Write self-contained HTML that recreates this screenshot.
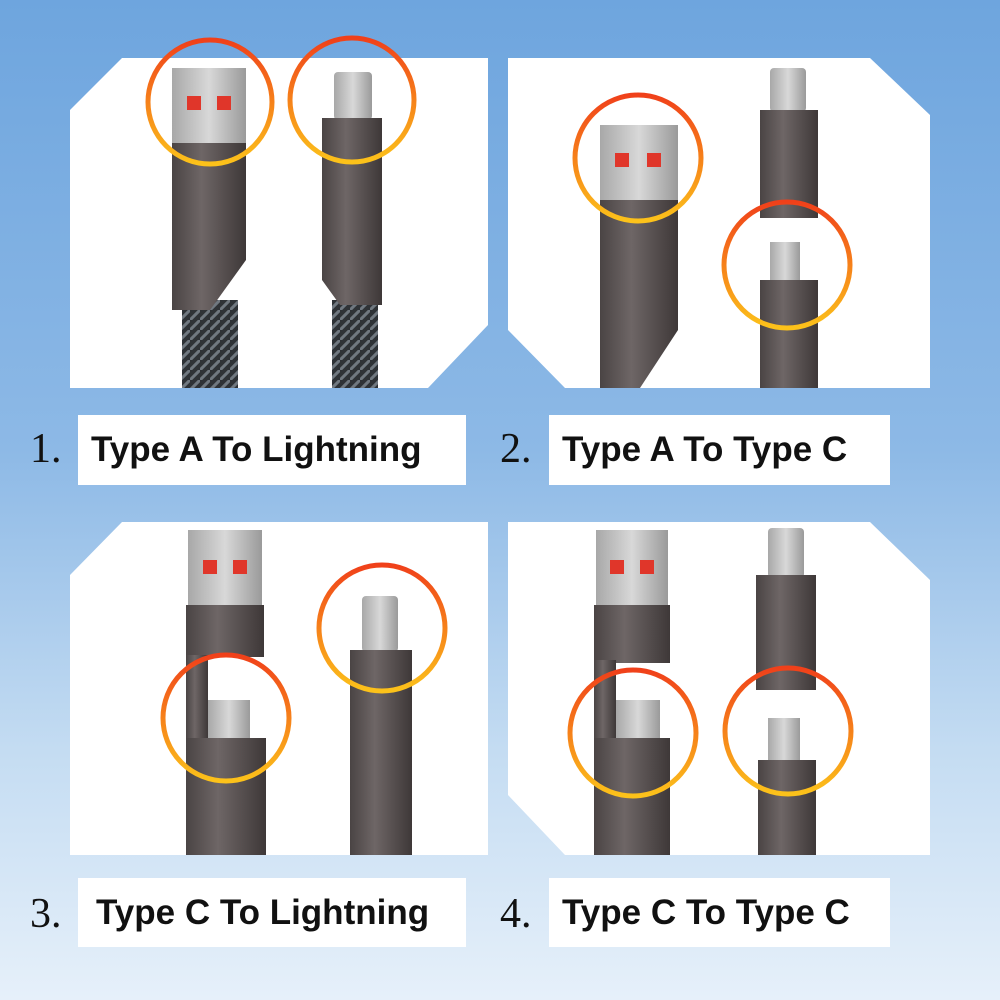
<!DOCTYPE html>
<html><head><meta charset="utf-8"><style>
html,body{margin:0;padding:0}
body{width:1000px;height:1000px;overflow:hidden;background:linear-gradient(180deg,#6ea5de 0%,#8db9e6 45%,#c4dcf2 75%,#e6f0fa 100%);position:relative;font-family:"Liberation Sans",sans-serif}
svg{position:absolute;left:0;top:0}
.num{position:absolute;font-family:"Liberation Serif",serif;font-size:42px;color:#111}
.lab{position:absolute;background:#fff;font-weight:bold;font-size:35px;white-space:nowrap;overflow:hidden;color:#111;box-sizing:border-box;padding-left:13px;display:flex;align-items:center}
</style></head><body>
<svg width="1000" height="1000" viewBox="0 0 1000 1000">
<defs>
<linearGradient id="rg" x1="0" y1="0" x2="0" y2="1"><stop offset="0" stop-color="#f0401a"/><stop offset="1" stop-color="#fcc21a"/></linearGradient>
<linearGradient id="body" x1="0" y1="0" x2="1" y2="0"><stop offset="0" stop-color="#4a4444"/><stop offset="0.4" stop-color="#6e6666"/><stop offset="1" stop-color="#3e3838"/></linearGradient>
<linearGradient id="plug" x1="0" y1="0" x2="1" y2="0"><stop offset="0" stop-color="#a8a8a8"/><stop offset="0.5" stop-color="#d8d8d8"/><stop offset="1" stop-color="#9a9a9a"/></linearGradient>
<pattern id="braid" width="10" height="10" patternUnits="userSpaceOnUse"><rect width="10" height="10" fill="#2e3236"/><path d="M0 10L10 0" stroke="#707880" stroke-width="3"/></pattern>
</defs>
<polygon points="70,110 122,58 488,58 488,325 428,388 70,388" fill="#fff"/>
<polygon points="508,58 870,58 930,115 930,388 565,388 508,330" fill="#fff"/>
<polygon points="70,575 122,522 488,522 488,855 70,855" fill="#fff"/>
<polygon points="508,522 870,522 930,580 930,855 565,855 508,795" fill="#fff"/>

<rect x="182" y="300" width="56" height="88" fill="url(#braid)"/>
<rect x="172" y="68" width="74" height="75" fill="url(#plug)"/>
<rect x="187" y="96" width="14" height="14" fill="#e0362a"/><rect x="217" y="96" width="14" height="14" fill="#e0362a"/>
<polygon points="172,143 246,143 246,260 210,310 172,310" fill="url(#body)"/>
<rect x="332" y="300" width="46" height="88" fill="url(#braid)"/>
<rect x="334" y="72" width="38" height="48" rx="4" fill="url(#plug)"/>
<polygon points="322,118 382,118 382,305 340,305 322,280" fill="url(#body)"/>
<circle cx="210" cy="102" r="62" fill="none" stroke="url(#rg)" stroke-width="5"/>
<circle cx="352" cy="100" r="62" fill="none" stroke="url(#rg)" stroke-width="5"/>

<rect x="770" y="68" width="36" height="44" rx="4" fill="url(#plug)"/>
<rect x="760" y="110" width="58" height="108" fill="url(#body)"/>
<rect x="770" y="242" width="30" height="40" fill="url(#plug)"/>
<rect x="760" y="280" width="58" height="108" fill="url(#body)"/>
<rect x="600" y="125" width="78" height="78" fill="url(#plug)"/>
<rect x="615" y="153" width="14" height="14" fill="#e0362a"/><rect x="647" y="153" width="14" height="14" fill="#e0362a"/>
<polygon points="600,200 678,200 678,330 640,388 600,388" fill="url(#body)"/>
<circle cx="638" cy="158" r="63" fill="none" stroke="url(#rg)" stroke-width="5"/>
<circle cx="787" cy="265" r="63" fill="none" stroke="url(#rg)" stroke-width="5"/>

<rect x="188" y="530" width="74" height="78" fill="url(#plug)"/>
<rect x="203" y="560" width="14" height="14" fill="#e0362a"/><rect x="233" y="560" width="14" height="14" fill="#e0362a"/>
<rect x="186" y="605" width="78" height="52" fill="url(#body)"/>
<rect x="186" y="655" width="22" height="90" fill="url(#body)"/>
<rect x="208" y="700" width="42" height="40" fill="url(#plug)"/>
<rect x="186" y="738" width="80" height="117" fill="url(#body)"/>
<rect x="362" y="596" width="36" height="56" rx="4" fill="url(#plug)"/>
<rect x="350" y="650" width="62" height="205" fill="url(#body)"/>
<circle cx="226" cy="718" r="63" fill="none" stroke="url(#rg)" stroke-width="5"/>
<circle cx="382" cy="628" r="63" fill="none" stroke="url(#rg)" stroke-width="5"/>

<rect x="596" y="530" width="72" height="78" fill="url(#plug)"/>
<rect x="610" y="560" width="14" height="14" fill="#e0362a"/><rect x="640" y="560" width="14" height="14" fill="#e0362a"/>
<rect x="594" y="605" width="76" height="58" fill="url(#body)"/>
<rect x="594" y="660" width="22" height="85" fill="url(#body)"/>
<rect x="616" y="700" width="44" height="40" fill="url(#plug)"/>
<rect x="594" y="738" width="76" height="117" fill="url(#body)"/>
<rect x="768" y="528" width="36" height="50" rx="4" fill="url(#plug)"/>
<rect x="756" y="575" width="60" height="115" fill="url(#body)"/>
<rect x="768" y="718" width="32" height="44" fill="url(#plug)"/>
<rect x="758" y="760" width="58" height="95" fill="url(#body)"/>
<circle cx="633" cy="733" r="63" fill="none" stroke="url(#rg)" stroke-width="5"/>
<circle cx="788" cy="731" r="63" fill="none" stroke="url(#rg)" stroke-width="5"/>
</svg>

<div class="num" style="left:30px;top:425px">1.</div>
<div class="lab" style="left:78px;top:415px;width:388px;height:70px">Type A To Lightning</div>
<div class="num" style="left:500px;top:425px">2.</div>
<div class="lab" style="left:549px;top:415px;width:341px;height:70px">Type A To Type C</div>
<div class="num" style="left:30px;top:890px">3.</div>
<div class="lab" style="left:78px;top:878px;width:388px;height:69px;padding-left:18px">Type C To Lightning</div>
<div class="num" style="left:500px;top:890px">4.</div>
<div class="lab" style="left:549px;top:878px;width:341px;height:69px">Type C To Type C</div>
</body></html>
